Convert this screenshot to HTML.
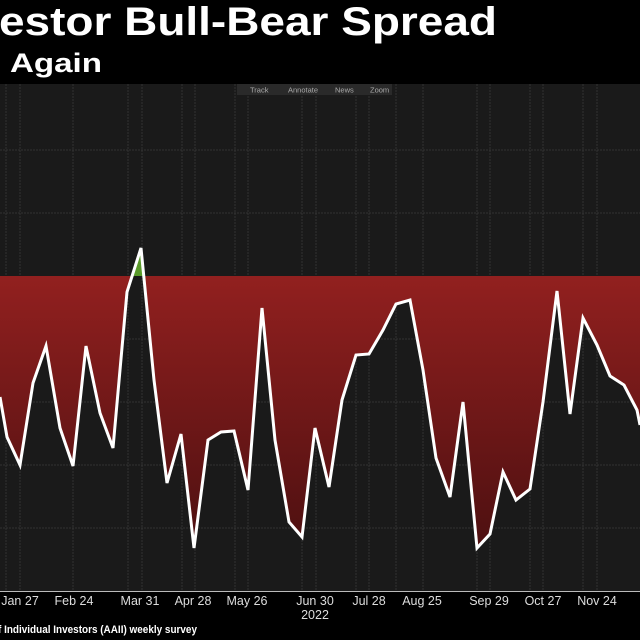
<!DOCTYPE html>
<html><head><meta charset="utf-8"><style>
body{margin:0;background:#000;width:640px;height:640px;overflow:hidden}
svg{display:block}
text{font-family:"Liberation Sans",sans-serif}
</style></head><body>
<svg width="640" height="640" viewBox="0 0 640 640">
<defs>
<linearGradient id="rg" x1="0" y1="276" x2="0" y2="560" gradientUnits="userSpaceOnUse">
<stop offset="0" stop-color="#92201f"/><stop offset="1" stop-color="#4a0f10"/>
</linearGradient>
<clipPath id="below"><rect x="0" y="276" width="640" height="320"/></clipPath>
<clipPath id="above"><rect x="0" y="84" width="640" height="192"/></clipPath>
</defs>
<rect x="0" y="0" width="640" height="640" fill="#000"/>
<text x="-1" y="35" fill="#fff" font-size="40" font-weight="bold" textLength="498" lengthAdjust="spacingAndGlyphs">estor Bull-Bear Spread</text>
<text x="10" y="72" fill="#fff" font-size="27" font-weight="bold" textLength="92" lengthAdjust="spacingAndGlyphs">Again</text>
<rect x="0" y="84" width="640" height="507" fill="#1a1a1a"/>
<g stroke="#333" stroke-width="1" stroke-dasharray="2,1">
<line x1="0" y1="150" x2="640" y2="150"/><line x1="0" y1="213" x2="640" y2="213"/>
<line x1="0" y1="339" x2="640" y2="339"/><line x1="0" y1="402" x2="640" y2="402"/>
<line x1="0" y1="465" x2="640" y2="465"/><line x1="0" y1="528" x2="640" y2="528"/>
<line x1="6" y1="84" x2="6" y2="591"/><line x1="20" y1="84" x2="20" y2="591"/>
<line x1="73" y1="84" x2="73" y2="591"/><line x1="128" y1="84" x2="128" y2="591"/>
<line x1="142" y1="84" x2="142" y2="591"/><line x1="182" y1="84" x2="182" y2="591"/>
<line x1="195" y1="84" x2="195" y2="591"/><line x1="235" y1="84" x2="235" y2="591"/>
<line x1="248" y1="84" x2="248" y2="591"/><line x1="302" y1="84" x2="302" y2="591"/>
<line x1="316" y1="84" x2="316" y2="591"/><line x1="356" y1="84" x2="356" y2="591"/>
<line x1="369" y1="84" x2="369" y2="591"/><line x1="396" y1="84" x2="396" y2="591"/>
<line x1="423" y1="84" x2="423" y2="591"/><line x1="477" y1="84" x2="477" y2="591"/>
<line x1="490" y1="84" x2="490" y2="591"/><line x1="530" y1="84" x2="530" y2="591"/>
<line x1="543" y1="84" x2="543" y2="591"/><line x1="583" y1="84" x2="583" y2="591"/>
<line x1="597" y1="84" x2="597" y2="591"/>
</g>
<polygon fill="url(#rg)" clip-path="url(#below)" points="0,276 0,397 7,437 20,465 33,383 46,346 60,428 73,466 86,346 100,413 113,448 127,292 141,248 154,380 167,483 181,434 194,548 208,440 221,432 234,431 248,490 262,308 275,440 289,522 302,537 315,428 329,487 342,400 356,355 369,354 383,330 396,304 410,300 423,370 436,458 450,497 463,402 477,548 490,534 503,472 516,500 530,489 543,402 557,291 570,414 583,318 597,345 610,376 624,385 637,410 640,425 640,276"/>
<polygon fill="#5a9a2a" clip-path="url(#above)" points="127,292 141,248 154,380"/>
<polyline fill="none" stroke="#fff" stroke-width="3" stroke-linejoin="miter" points="0,397 7,437 20,465 33,383 46,346 60,428 73,466 86,346 100,413 113,448 127,292 141,248 154,380 167,483 181,434 194,548 208,440 221,432 234,431 248,490 262,308 275,440 289,522 302,537 315,428 329,487 342,400 356,355 369,354 383,330 396,304 410,300 423,370 436,458 450,497 463,402 477,548 490,534 503,472 516,500 530,489 543,402 557,291 570,414 583,318 597,345 610,376 624,385 637,410 640,425"/>
<rect x="237" y="84" width="155" height="11" fill="#2a2a2a"/>
<text x="250" y="92.5" fill="#aaa" font-size="7.5">Track</text>
<text x="288" y="92.5" fill="#aaa" font-size="7.5">Annotate</text>
<text x="335" y="92.5" fill="#aaa" font-size="7.5">News</text>
<text x="370" y="92.5" fill="#aaa" font-size="7.5">Zoom</text>
<line x1="0" y1="591.5" x2="640" y2="591.5" stroke="#bbb" stroke-width="1"/>
<g fill="#ddd" font-size="12.5" text-anchor="middle">
<text x="20" y="605">Jan 27</text><text x="74" y="605">Feb 24</text>
<text x="140" y="605">Mar 31</text><text x="193" y="605">Apr 28</text>
<text x="247" y="605">May 26</text><text x="315" y="605">Jun 30</text>
<text x="315" y="619">2022</text>
<text x="369" y="605">Jul 28</text><text x="422" y="605">Aug 25</text>
<text x="489" y="605">Sep 29</text><text x="543" y="605">Oct 27</text>
<text x="597" y="605">Nov 24</text>
</g>
<rect x="0" y="621" width="640" height="19" fill="#000"/>
<text x="-2" y="633" fill="#fff" font-size="11" font-weight="bold" textLength="199" lengthAdjust="spacingAndGlyphs">f Individual Investors (AAII) weekly survey</text>
</svg>
</body></html>
